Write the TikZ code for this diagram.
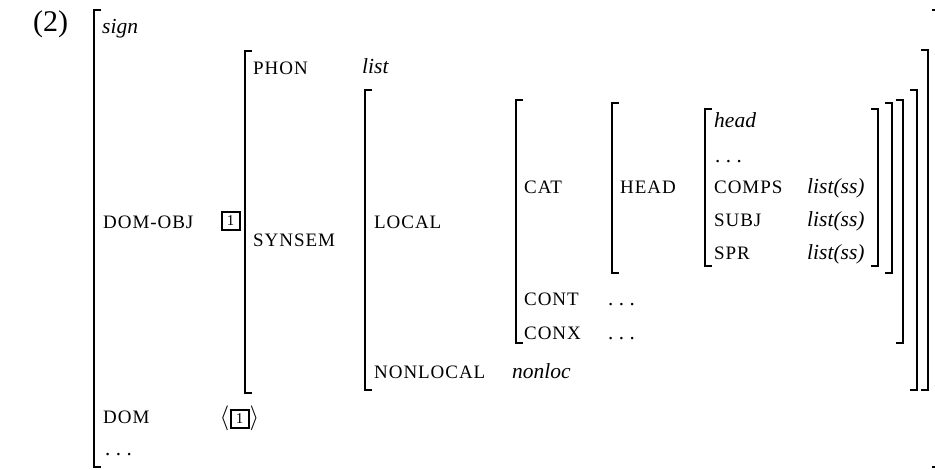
\documentclass[tikz,border=0pt]{standalone}
\usepackage{fontspec}
\setmainfont{Liberation Serif}
\newfontfamily\featfam[LetterSpace=5]{Liberation Serif}
\newcommand\AVMleft[3]{\draw[brk] (#1+7,#2) -- (#1,#2) -- (#1,#3) -- (#1+7,#3);}
\newcommand\AVMright[3]{\draw[brk] (#1-7,#2) -- (#1,#2) -- (#1,#3) -- (#1-7,#3);}
\newcommand\AVMdots{.\hspace{5.5pt}.\hspace{5.5pt}.}
\tikzset{
  feat/.style={anchor=base west, inner sep=0pt, font=\featfam\fontsize{19}{19}\selectfont},
  val/.style={anchor=base west, inner sep=0pt, font=\itshape\fontsize{21.5}{22}\selectfont},
  dotsnode/.style={anchor=base west, inner sep=0pt, font=\fontsize{21}{21}\selectfont},
  brk/.style={line width=1.6pt, line join=miter},
  tagbox/.style={draw, line width=2pt, minimum size=18pt, inner sep=0pt, font=\fontsize{15}{15}\selectfont},
  angle/.style={inner sep=0pt, font=\fontsize{23}{23}\selectfont}
}
\begin{document}
\begin{tikzpicture}[x=1pt,y=-1pt]
\useasboundingbox (0,0) rectangle (935,469);
% example number
\node[anchor=base west, inner sep=0pt, font=\fontsize{30}{30}\selectfont] (num) at (33,31) {(2)};
% brackets
\AVMleft{94}{10}{467}
\draw[brk] (932,10) -- (937,10) -- (937,467) -- (932,467);
\AVMleft{245}{51}{393}
\AVMright{928}{50}{390}
\AVMleft{365}{90}{390}
\AVMright{917}{90}{390}
\AVMleft{516}{100}{343}
\AVMright{903}{100}{343}
\AVMleft{612}{103}{273}
\AVMright{892}{103}{273}
\AVMleft{705}{109}{266}
\AVMright{878}{109}{266}
% outer AVM
\node[val] (sign) at (102,33) {sign};
\node[feat] (domobj) at (103,228) {DOM-OBJ};
\node[tagbox] (tag1) at (230.5,220.5) {1};
\node[feat] (dom) at (103,423) {DOM};
\node[tagbox] (tag2) at (239.5,418.5) {1};
\node[angle, anchor=east] (la) at (tag2.west) {$\langle$};
\node[angle, anchor=west] (ra) at (tag2.east) {$\rangle$};
\node[dotsnode] (odots) at (105,455) {\AVMdots};
% synsem
\node[feat] (phon) at (253,74) {PHON};
\node[val] (list) at (362,73) {list};
\node[feat] (synsem) at (253,246) {SYNSEM};
% local
\node[feat] (local) at (374,228) {LOCAL};
\node[feat] (nonlocal) at (374,378) {NONLOCAL};
\node[val] (nonloc) at (512,378) {nonloc};
% cat
\node[feat] (cat) at (524,193) {CAT};
\node[feat] (cont) at (524,305) {CONT};
\node[dotsnode] (contdots) at (608,305) {\AVMdots};
\node[feat] (conx) at (524,339) {CONX};
\node[dotsnode] (conxdots) at (608,339) {\AVMdots};
% head
\node[feat] (headf) at (620,193) {HEAD};
\node[val] (headv) at (714,127) {head};
\node[dotsnode] (hdots) at (715,162) {\AVMdots};
\node[feat] (comps) at (714,193) {COMPS};
\node[val] (compsv) at (807,193) {list(ss)};
\node[feat] (subj) at (714,226) {SUBJ};
\node[val] (subjv) at (807,226) {list(ss)};
\node[feat] (spr) at (714,259) {SPR};
\node[val] (sprv) at (807,259) {list(ss)};
\end{tikzpicture}
\end{document}
